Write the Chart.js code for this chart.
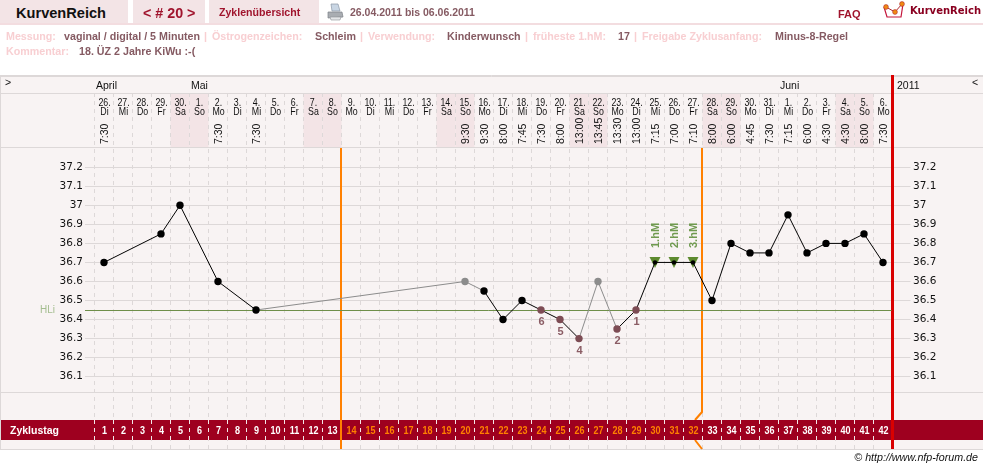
<!DOCTYPE html>
<html lang="de">
  <head>
    <meta charset="UTF-8" />
    <title>KurvenReich</title>
    <script src="https://cdn.jsdelivr.net/npm/chart.js"></script>
    <style>
      html, body {
        margin: 0;
        background: #fff;
        overflow: hidden;
      }
      #page {
        position: relative;
        width: 983px;
        height: 469px;
        font: bold 10.7px 'Liberation Sans', Arial, sans-serif;
        color: #855a62;
      }
      canvas {
        position: absolute;
        left: 0;
        top: 0;
      }
      .tab {
        position: absolute;
        top: 0;
        height: 23px;
        background: #f3e4e6;
      }
      .rule {
        position: absolute;
        left: 0;
        top: 23px;
        width: 983px;
        height: 2px;
        background: #f3dde0;
      }
      .t {
        position: absolute;
        white-space: nowrap;
        line-height: 12px;
      }
      .pale { color: #f8cfd2; }
      .red { color: #a0142d; }
      svg { position: absolute; }
    </style>
  </head>
  <body>
    <div id="page">
      <canvas id="curve" width="983" height="469"></canvas>

      <div class="tab" style="left: 0; width: 128px"></div>
      <div class="tab" style="left: 133px; width: 72px"></div>
      <div class="tab" style="left: 209px; width: 110px"></div>
      <div class="rule"></div>

      <div class="t" style="left: 16px; top: 7px; font-size: 14.6px; color: #111">KurvenReich</div>
      <div class="t red" style="left: 143px; top: 7px; font-size: 14.3px">&lt; # 20 &gt;</div>
      <div class="t red" style="left: 219px; top: 6px; font-size: 10.6px">Zyklenübersicht</div>
      <svg style="left: 327px; top: 3px" width="17" height="18" viewBox="0 0 17 18">
        <path d="M4 1 L11 1 L13 8 L5 8 Z" fill="#c9d6e4" stroke="#8b97a5" stroke-width="0.7" />
        <path d="M1 9 L15 9 L16 14 L1 15 Z" fill="#a9adb2" stroke="#7d8186" stroke-width="0.7" />
        <path d="M3 14 L14 14 L13 17 L4 17 Z" fill="#e4e6e8" stroke="#8d9196" stroke-width="0.6" />
      </svg>
      <div class="t" style="left: 350px; top: 6px; font-size: 10.5px">26.04.2011 bis 06.06.2011</div>
      <div class="t red" style="left: 838px; top: 8px; font-size: 11px">FAQ</div>
      <svg style="left: 882px; top: 1px" width="26" height="19" viewBox="0 0 26 19">
        <path d="M2 6 L5 16 L19 16 L21 3" fill="none" stroke="#c4163c" stroke-width="1.2" />
        <path d="M4 6 L13 11 L20 3" fill="none" stroke="#b02a30" stroke-width="1" />
        <circle cx="4" cy="6" r="2.4" fill="#f08a12" stroke="#b02a30" stroke-width="0.6" />
        <circle cx="13" cy="11" r="2.4" fill="#f08a12" stroke="#b02a30" stroke-width="0.6" />
        <circle cx="20" cy="3" r="2.4" fill="#f08a12" stroke="#b02a30" stroke-width="0.6" />
      </svg>
      <div class="t" style="left: 910px; top: 5px; font: bold 10px/12px 'DejaVu Sans'; color: #8a0020">KurvenReich</div>

      <div class="t pale" style="left: 6px; top: 30px">Messung:</div>
      <div class="t" style="left: 64px; top: 30px">vaginal / digital / 5 Minuten</div>
      <div class="t pale" style="left: 204px; top: 30px">|</div>
      <div class="t pale" style="left: 212px; top: 30px">Östrogenzeichen:</div>
      <div class="t" style="left: 315px; top: 30px">Schleim</div>
      <div class="t pale" style="left: 360px; top: 30px">|</div>
      <div class="t pale" style="left: 368px; top: 30px">Verwendung:</div>
      <div class="t" style="left: 447px; top: 30px">Kinderwunsch</div>
      <div class="t pale" style="left: 525px; top: 30px">|</div>
      <div class="t pale" style="left: 533px; top: 30px">früheste 1.hM:</div>
      <div class="t" style="left: 618px; top: 30px">17</div>
      <div class="t pale" style="left: 634px; top: 30px">|</div>
      <div class="t pale" style="left: 642px; top: 30px">Freigabe Zyklusanfang:</div>
      <div class="t" style="left: 775px; top: 30px">Minus-8-Regel</div>
      <div class="t pale" style="left: 6px; top: 45px">Kommentar:</div>
      <div class="t" style="left: 79px; top: 45px">18. ÜZ 2 Jahre KiWu :-(</div>

      <div class="t" style="right: 5px; top: 451px; font: italic 10.7px/12px 'Liberation Sans'; color: #111">© http://www.nfp-forum.de</div>
    </div>

    <script>
      const cycleDays = [
        1, 2, 3, 4, 5, 6, 7, 8, 9, 10, 11, 12, 13, 14, 15, 16, 17, 18, 19, 20, 21,
        22, 23, 24, 25, 26, 27, 28, 29, 30, 31, 32, 33, 34, 35, 36, 37, 38, 39, 40, 41, 42,
      ];
      const dayOfMonth = [
        26, 27, 28, 29, 30, 1, 2, 3, 4, 5, 6, 7, 8, 9, 10, 11, 12, 13, 14, 15, 16,
        17, 18, 19, 20, 21, 22, 23, 24, 25, 26, 27, 28, 29, 30, 31, 1, 2, 3, 4, 5, 6,
      ];
      const weekdays = [
        'Di', 'Mi', 'Do', 'Fr', 'Sa', 'So', 'Mo', 'Di', 'Mi', 'Do', 'Fr', 'Sa', 'So', 'Mo',
        'Di', 'Mi', 'Do', 'Fr', 'Sa', 'So', 'Mo', 'Di', 'Mi', 'Do', 'Fr', 'Sa', 'So', 'Mo',
        'Di', 'Mi', 'Do', 'Fr', 'Sa', 'So', 'Mo', 'Di', 'Mi', 'Do', 'Fr', 'Sa', 'So', 'Mo',
      ];
      const times = [
        '7:30', '', '', '', '', '', '7:30', '', '7:30', '', '', '', '', '', '', '', '', '', '',
        '9:30', '9:30', '8:00', '7:45', '7:30', '8:00', '13:00', '13:45', '13:30', '13:00',
        '7:15', '7:00', '7:10', '8:00', '6:00', '4:45', '7:30', '7:15', '6:00', '4:30', '4:30',
        '8:00', '7:30',
      ];
      const temps = [
        36.7, null, null, 36.85, 37, null, 36.6, null, 36.45, null, null, null, null, null,
        null, null, null, null, null, 36.6, 36.55, 36.4, 36.5, 36.45, 36.4, 36.3, 36.6, 36.35,
        36.45, 36.7, 36.7, 36.7, 36.5, 36.8, 36.75, 36.75, 36.95, 36.75, 36.8, 36.8, 36.85, 36.7,
      ];
      const tempTicks = [36.1, 36.2, 36.3, 36.4, 36.5, 36.6, 36.7, 36.8, 36.9, 37, 37.1, 37.2];
      const excludedDays = [20, 27];
      const lowDays = [24, 25, 26, 28, 29];
      const lowLabels = ['6', '5', '4', '2', '1'];
      const peakDays = [30, 31, 32];
      const peakLabels = ['1.hM', '2.hM', '3.hM'];
      const coverLine = 36.45;
      const months = [
        { name: 'April', day: 1 },
        { name: 'Mai', day: 6 },
        { name: 'Juni', day: 37 },
      ];
      const phaseEnds = [13, 32];

      const LINE = '#ddd8d8';
      const PANEL = '#f8f3f3';
      const WEEKEND = '#f3e4e6';
      const BAR = '#9e001f';
      const ORANGE = '#ff8000';
      const RED = '#d90000';
      const SANS = "'Liberation Sans', Arial, sans-serif";

      function dayColor(day) {
        if (excludedDays.includes(day)) return '#8c8c8c';
        if (lowDays.includes(day)) return '#7d4c54';
        return '#000';
      }

      // narrowed text for the small labels in the day columns
      function narrowText(ctx, text, x, y, squeeze) {
        ctx.save();
        ctx.translate(x, y);
        ctx.scale(squeeze, 1);
        ctx.fillText(text, 0, 0);
        ctx.restore();
      }

      function upText(ctx, text, x, y) {
        ctx.save();
        ctx.translate(x, y);
        ctx.rotate(-Math.PI / 2);
        ctx.textAlign = 'left';
        ctx.textBaseline = 'middle';
        ctx.fillText(text, 0, 0);
        ctx.restore();
      }

      function vLine(ctx, x, y0, y1, color, width) {
        ctx.strokeStyle = color;
        ctx.lineWidth = width;
        ctx.beginPath();
        ctx.moveTo(x, y0);
        ctx.lineTo(x, y1);
        ctx.stroke();
      }

      function hLine(ctx, x0, x1, y, color) {
        ctx.strokeStyle = color;
        ctx.lineWidth = 1;
        ctx.beginPath();
        ctx.moveTo(x0, y);
        ctx.lineTo(x1, y);
        ctx.stroke();
      }

      // down-pointing marker, centred on its box so the dot sits in the middle of it
      function peakMarker() {
        const c = document.createElement('canvas');
        c.width = 12;
        c.height = 11;
        const g = c.getContext('2d');
        g.fillStyle = '#5d8a2e';
        g.beginPath();
        g.moveTo(0.5, 0);
        g.lineTo(11.5, 0);
        g.lineTo(6, 11);
        g.closePath();
        g.fill();
        return c;
      }

      const panel = {
        id: 'panel',
        beforeDraw(chart) {
          const { ctx, scales } = chart;
          const x = scales.x;
          ctx.save();
          ctx.fillStyle = PANEL;
          ctx.fillRect(0, 75, 983, 375);

          // weekend columns in the date row
          ctx.fillStyle = WEEKEND;
          cycleDays.forEach((day, i) => {
            if (weekdays[i] === 'Sa' || weekdays[i] === 'So') {
              ctx.fillRect(x.getPixelForValue(day - 0.5), 93, 19, 54);
            }
          });

          hLine(ctx, 0, 983, 75.5, LINE);
          hLine(ctx, 0, 983, 76.5, LINE);
          hLine(ctx, 0, 983, 93.5, LINE);
          hLine(ctx, 0, 983, 147.5, LINE);
          hLine(ctx, 0, 983, 392.5, LINE);
          hLine(ctx, 0, 983, 449.5, LINE);
          vLine(ctx, 0.5, 75, 450, LINE, 1);
          ctx.restore();
        },
        beforeDatasetsDraw(chart) {
          const { ctx, scales } = chart;
          const x = scales.x;
          const y = scales.y;
          ctx.save();

          // header row text
          ctx.fillStyle = '#111';
          ctx.textBaseline = 'alphabetic';
          ctx.font = `10.5px ${SANS}`;
          ctx.textAlign = 'left';
          months.forEach((m) => ctx.fillText(m.name, x.getPixelForValue(m.day - 0.5) + 1.5, 89));
          ctx.fillText('2011', 897, 89);
          ctx.fillText('>', 5, 86);
          ctx.fillText('<', 972, 86);

          ctx.textAlign = 'center';
          ctx.font = `11px ${SANS}`;
          cycleDays.forEach((day, i) => {
            const px = x.getPixelForValue(day) + 0.5;
            narrowText(ctx, `${dayOfMonth[i]}.`, px, 106, 0.8);
            narrowText(ctx, weekdays[i], px, 115, 0.8);
            if (times[i]) {
              ctx.font = `10.5px ${SANS}`;
              upText(ctx, times[i], px + 0.5, 144);
              ctx.font = `11px ${SANS}`;
            }
          });

          // second phase line with its kink, goes under the day bar
          const px2 = Math.round(x.getPixelForValue(phaseEnds[1] + 0.5)) - 1;
          ctx.strokeStyle = ORANGE;
          ctx.lineWidth = 2;
          ctx.beginPath();
          ctx.moveTo(px2, 148);
          ctx.lineTo(px2, 412);
          ctx.lineTo(px2 - 7, 420);
          ctx.moveTo(px2 - 7, 440);
          ctx.lineTo(px2, 449);
          ctx.stroke();

          // cycle day bar
          ctx.fillStyle = BAR;
          ctx.fillRect(1, 420, 982, 20);
          ctx.setLineDash([4, 4]);
          cycleDays.forEach((day) => {
            const px = Math.floor(x.getPixelForValue(day - 0.5)) + 0.5;
            vLine(ctx, px, 420, 440, '#f4e6e8', 1);
          });
          ctx.setLineDash([]);

          ctx.textAlign = 'left';
          ctx.textBaseline = 'alphabetic';
          ctx.font = `bold 10.5px ${SANS}`;
          ctx.fillStyle = '#fff';
          ctx.fillText('Zyklustag', 10, 434);
          ctx.font = `bold 11px ${SANS}`;
          ctx.textAlign = 'center';
          cycleDays.forEach((day) => {
            ctx.fillStyle = day > phaseEnds[0] && day <= phaseEnds[1] ? ORANGE : '#fff';
            narrowText(ctx, String(day), x.getPixelForValue(day) + 0.5, 434, 0.82);
          });

          const px1 = Math.round(x.getPixelForValue(phaseEnds[0] + 0.5)) - 1;
          vLine(ctx, px1, 148, 449, ORANGE, 2);
          vLine(ctx, x.getPixelForValue(42.5), 75, 449, RED, 3);

          // cover line
          const coverY = Math.round(y.getPixelForValue(coverLine)) + 0.5;
          hLine(ctx, 85, x.getPixelForValue(42.5) - 1, coverY, '#6f8f4a');
          ctx.fillStyle = '#a4bd8f';
          ctx.font = `10px ${SANS}`;
          ctx.textAlign = 'left';
          ctx.textBaseline = 'middle';
          ctx.fillText('HLi', 40, coverY);
          ctx.restore();
        },
        afterDraw(chart) {
          const { ctx, scales } = chart;
          const x = scales.x;
          const y = scales.y;
          ctx.save();
          ctx.textAlign = 'center';
          ctx.textBaseline = 'middle';
          ctx.font = `bold 11px ${SANS}`;
          ctx.fillStyle = '#8a5c64';
          lowDays.forEach((day, i) => {
            const temp = temps[cycleDays.indexOf(day)];
            ctx.fillText(lowLabels[i], x.getPixelForValue(day) + 0.5, y.getPixelForValue(temp) + 12);
          });
          ctx.font = `bold 11px ${SANS}`;
          ctx.fillStyle = '#6f9a4f';
          peakDays.forEach((day, i) => {
            upText(ctx, peakLabels[i], x.getPixelForValue(day) + 0.5, 248);
          });
          ctx.restore();
        },
      };

      const measured = cycleDays
        .map((day, i) => ({ x: day, y: temps[i] }))
        .filter((p) => p.y !== null);

      new Chart(document.getElementById('curve'), {
        type: 'line',
        data: {
          datasets: [
            {
              data: measured,
              borderColor: '#000',
              borderWidth: 1,
              pointRadius: (c) => (peakDays.includes(c.raw.x) ? 2.2 : 3.7),
              pointBackgroundColor: (c) => dayColor(c.raw.x),
              pointBorderColor: (c) => dayColor(c.raw.x),
              pointBorderWidth: 0,
              segment: {
                borderColor: (c) =>
                  excludedDays.includes(c.p0.parsed.x) || excludedDays.includes(c.p1.parsed.x)
                    ? '#8c8c8c'
                    : '#000',
              },
            },
            {
              // peak markers sit below the temperature curve
              data: peakDays.map((day) => ({ x: day, y: temps[cycleDays.indexOf(day)] })),
              showLine: false,
              pointStyle: peakMarker(),
              order: 1,
            },
          ],
        },
        options: {
          responsive: false,
          animation: false,
          devicePixelRatio: 1,
          layout: { padding: { top: 93, bottom: 20, left: 0, right: 0 } },
          plugins: { legend: { display: false }, tooltip: { enabled: false } },
          scales: {
            x: {
              type: 'linear',
              min: 0.5,
              max: 42.5,
              afterBuildTicks(scale) {
                scale.ticks = cycleDays.map((day) => ({ value: day - 0.5 }));
              },
              afterFit(scale) {
                scale.height = 0;
              },
              ticks: { display: false },
              grid: { color: LINE, drawTicks: false },
              border: { display: false, dash: [4, 4] },
            },
            y: {
              min: 35.72,
              max: 37.59,
              afterBuildTicks(scale) {
                scale.ticks = tempTicks.map((value) => ({ value }));
              },
              afterFit(scale) {
                scale.width = 94.5;
              },
              ticks: {
                callback: (v) => String(v),
                color: '#111',
                padding: 2,
                font: { family: 'DejaVu Sans', size: 10.5 },
              },
              grid: { color: LINE, tickLength: 9.5 },
              border: { display: false },
            },
            right: {
              position: 'right',
              min: 35.72,
              max: 37.59,
              afterBuildTicks(scale) {
                scale.ticks = tempTicks.map((value) => ({ value }));
              },
              afterFit(scale) {
                scale.width = 90.5;
              },
              ticks: {
                callback: (v) => String(v),
                color: '#111',
                padding: 2.5,
                font: { family: 'DejaVu Sans', size: 10.5 },
              },
              grid: { color: LINE, drawOnChartArea: false, tickLength: 18 },
              border: { display: false },
            },
          },
        },
        plugins: [panel],
      });
    </script>
  </body>
</html>
